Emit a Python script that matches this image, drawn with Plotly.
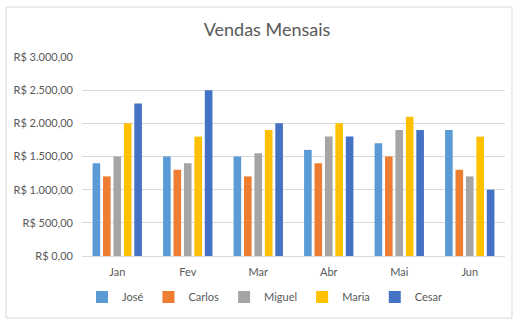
import plotly.graph_objects as go

# Monthly sales per salesperson (R$)
meses = ["Jan", "Fev", "Mar", "Abr", "Mai", "Jun"]
jose = [1400, 1500, 1500, 1600, 1700, 1900]
carlos = [1200, 1300, 1200, 1400, 1500, 1300]
miguel = [1500, 1400, 1550, 1800, 1900, 1200]
maria = [2000, 1800, 1900, 2000, 2100, 1800]
cesar = [2300, 2500, 2000, 1800, 1900, 1000]

y_ticks = [0, 500, 1000, 1500, 2000, 2500, 3000]
y_labels = ["R$ 0,00", "R$ 500,00", "R$ 1.000,00", "R$ 1.500,00",
            "R$ 2.000,00", "R$ 2.500,00", "R$ 3.000,00"]

series = [
    ("José", jose, "#5B9BD5"),
    ("Carlos", carlos, "#ED7D31"),
    ("Miguel", miguel, "#A5A5A5"),
    ("Maria", maria, "#FFC000"),
    ("Cesar", cesar, "#4472C4"),
]

FONT = "Lato, 'Open Sans', sans-serif"
W, H = 532, 324
L, R, T, B = 82, 27, 57, 68
pw, ph = W - L - R, H - T - B

fig = go.Figure()
for name, vals, color in series:
    fig.add_trace(go.Bar(name=name, x=meses, y=vals, marker_color=color,
                         marker_line_width=0))

# pixel -> paper coordinate helpers
def px_x(x):
    return (x - L) / pw

def px_y(y):
    return (H - B - y) / ph

# outer chart border
fig.add_shape(type="rect", xref="paper", yref="paper",
              x0=px_x(6), x1=px_x(512), y0=px_y(318), y1=px_y(7),
              line=dict(color="#D9D9D9", width=1), fillcolor="rgba(0,0,0,0)",
              layer="below")

fig.update_layout(
    width=W, height=H,
    margin=dict(l=L, r=R, t=T, b=B),
    paper_bgcolor="white", plot_bgcolor="white",
    barmode="group", bargap=0.26, bargroupgap=0.27,
    title=dict(text="Vendas Mensais", x=267 / W,
               xanchor="center", y=1 - 30 / H, yanchor="middle",
               font=dict(family=FONT, size=18, color="#595959")),
    font=dict(family=FONT, size=11, color="#595959"),
    legend=dict(orientation="h", x=px_x(265), xanchor="center",
                y=px_y(297), yanchor="middle",
                font=dict(family=FONT, size=11, color="#595959"),
                itemwidth=30, traceorder="normal"),
    showlegend=True,
)
fig.update_xaxes(showgrid=False, showline=True, linecolor="#D9D9D9",
                 linewidth=1, ticks="", ticklabelstandoff=6,
                 tickfont=dict(size=11, color="#595959"))
fig.update_yaxes(range=[0, 3000], tickvals=y_ticks, ticktext=y_labels,
                 showgrid=True, gridcolor="#D9D9D9", gridwidth=1,
                 zeroline=False, showline=False, ticks="",
                 ticklabelstandoff=8,
                 tickfont=dict(size=11, color="#595959"))

fig.write_html("out.html")
